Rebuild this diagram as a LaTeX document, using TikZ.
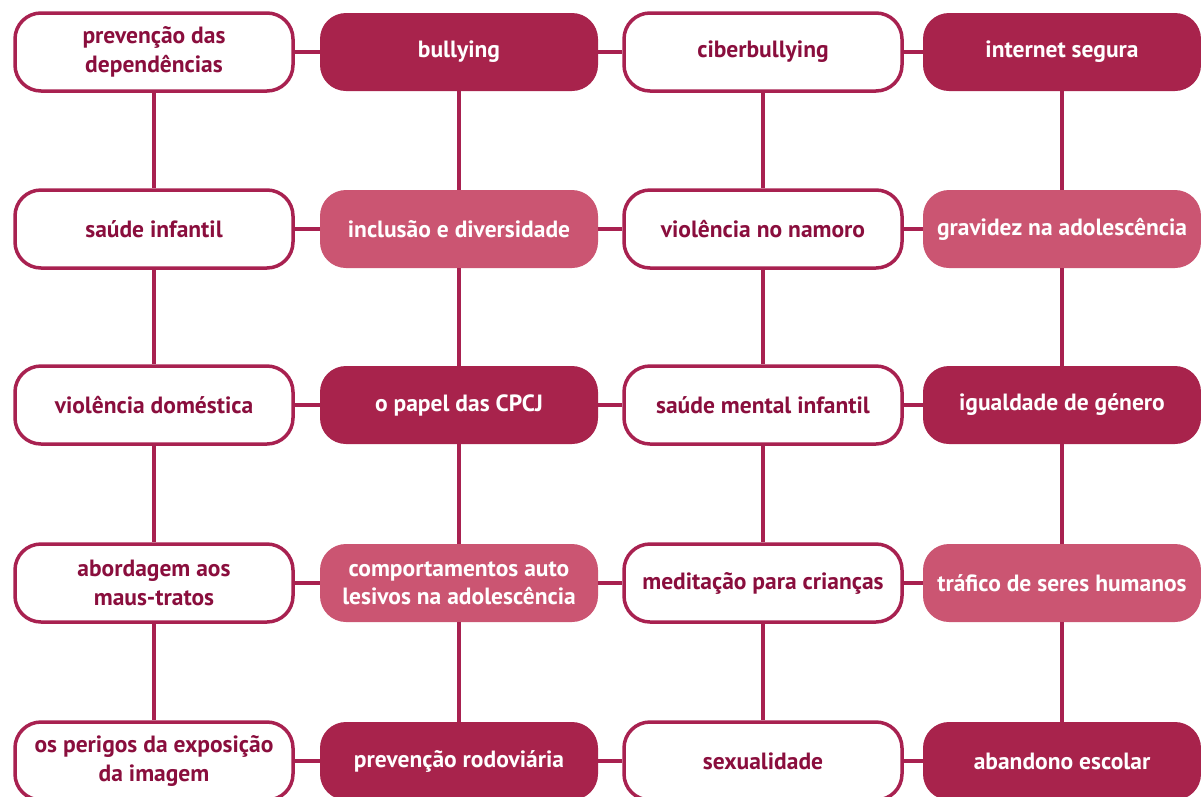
\documentclass[tikz,border=0pt]{standalone}
\usepackage{fontspec}
\setmainfont{PT Sans}

\definecolor{cpcjescuro}{HTML}{A8234C}
\definecolor{cpcjmedio}{HTML}{CB5572}
\definecolor{cpcjlinha}{HTML}{A82150}
\definecolor{cpcjtexto}{HTML}{8A0E3D}

\tikzset{
  tema/.style={rounded corners=26pt, minimum width=278pt, minimum height=78pt,
    align=center, inner sep=1pt, font=\fontsize{23.5}{28.5}\selectfont\bfseries},
  claro/.style={tema, draw=cpcjlinha, line width=3.5pt, fill=white, text=cpcjtexto},
  escuro/.style={tema, fill=cpcjescuro, text=white},
  medio/.style={tema, fill=cpcjmedio, text=white},
  ligacao/.style={cpcjlinha, line width=3.5pt}
}

\begin{document}
\begin{tikzpicture}[x=1pt,y=-1pt]
\useasboundingbox (0,0) rectangle (1201,796);
%\draw [help lines,black!20!white] (0,0) grid[step=100] (1201,796);

% coluna 1
\node[claro] (n11) at (154,52) {prevenção das\\dependências};
\node[claro] (n12) at (154,229) {saúde infantil};
\node[claro] (n13) at (154,405) {violência doméstica};
\node[claro] (n14) at (154,583) {abordagem aos\\maus-tratos};
\node[claro] (n15) at (154,761) {os perigos da exposição\\da imagem};

% coluna 2
\node[escuro] (n21) at (459,52) {bullying};
\node[medio] (n22) at (459,229) {inclusão e diversidade};
\node[escuro] (n23) at (459,405) {o papel das CPCJ};
\node[medio] (n24) at (459,583) {comportamentos auto\\lesivos na adolescência};
\node[escuro] (n25) at (459,761) {prevenção rodoviária};

% coluna 3
\node[claro] (n31) at (763,52) {ciberbullying};
\node[claro] (n32) at (763,229) {violência no namoro};
\node[claro] (n33) at (763,405) {saúde mental infantil};
\node[claro] (n34) at (763,583) {meditação para crianças};
\node[claro] (n35) at (763,761) {sexualidade};

% coluna 4
\node[escuro] (n41) at (1062,52) {internet segura};
\node[medio] (n42) at (1062,229) {gravidez na adolescência};
\node[escuro] (n43) at (1062,405) {igualdade de género};
\node[medio] (n44) at (1062,583) {tráfico de seres humanos};
\node[escuro] (n45) at (1062,761) {abandono escolar};

\foreach \c in {1,2,3,4}
	\foreach \r/\s in {1/2,2/3,3/4,4/5}
		\draw[ligacao] (n\c\r) -- (n\c\s);

\foreach \r in {1,2,3,4,5}
	\foreach \c/\d in {1/2,2/3,3/4}
		\draw[ligacao] (n\c\r) -- (n\d\r);

\end{tikzpicture}
\end{document}
